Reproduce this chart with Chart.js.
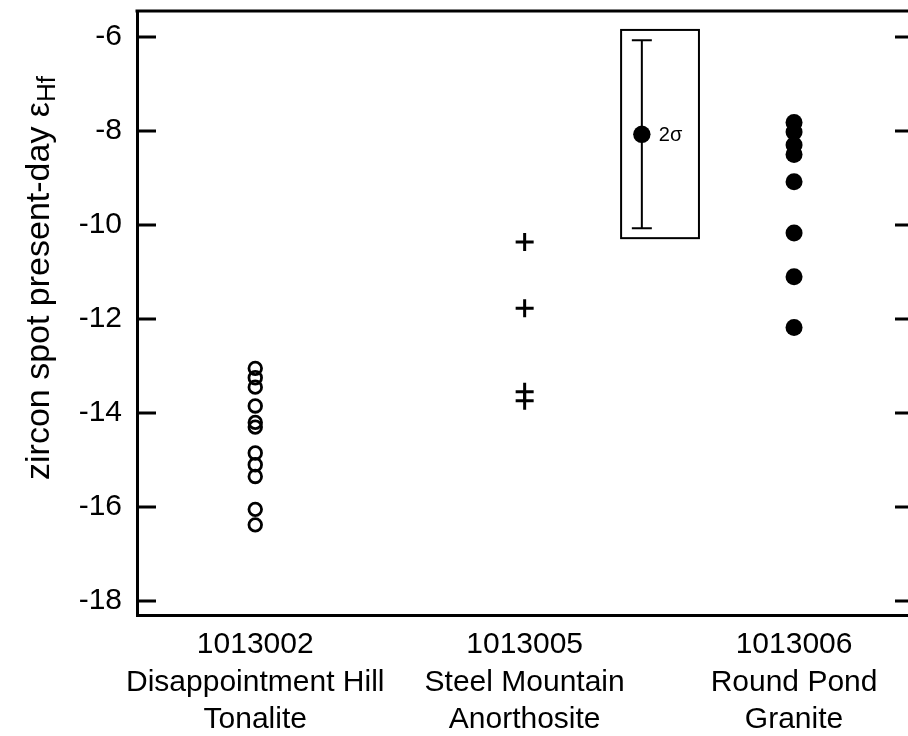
<!DOCTYPE html>
<html>
<head>
<meta charset="utf-8">
<script src="https://cdn.jsdelivr.net/npm/chart.js@4"></script>
<style>
  html, body { margin: 0; padding: 0; background: #fff; }
  #wrap { width: 908px; height: 736px; }
</style>
</head>
<body>
<div id="wrap"><canvas id="chart" width="908" height="736"></canvas></div>
<script>
// sample positions on the x axis and their labels
const categoryX = [1, 2, 3];
const categoryLabels = [
    ["1013002", "Disappointment Hill", "Tonalite"],
    ["1013005", "Steel Mountain", "Anorthosite"],
    ["1013006", "Round Pond", "Granite"]
];

// zircon spot present-day eHf values
const tonaliteHf = [-13.05, -13.25, -13.45, -13.85, -14.2, -14.3, -14.85, -15.1, -15.35, -16.05, -16.38];
const anorthositeHf = [-10.36, -11.77, -13.55, -13.74];
const graniteHf = [-7.82, -8.02, -8.3, -8.5, -9.08, -10.17, -11.1, -12.18];

// typical 2 sigma uncertainty shown in the inset box
const errX = 2.435;
const errY = -8.07;
const errHalf = 2;
const boxX = [2.358, 2.647];
const boxY = [-5.85, -10.28];

const yTicks = [-18, -16, -14, -12, -10, -8, -6];
const xRange = [0.561, 3.423];
const yRange = [-18.298, -5.447];

const FONT = "'Liberation Sans', Arial, sans-serif";

const toPoints = (x, vals) => vals.map(v => ({ x: x, y: v }));

// no extra room for overhanging labels, the frame is fixed
const noPadding = axis => {
    axis.paddingLeft = 0;
    axis.paddingRight = 0;
    axis.paddingTop = 0;
    axis.paddingBottom = 0;
};

// frame top, inner ticks, error bar inset and the axis title
const decorations = {
    id: "decorations",
    afterDatasetsDraw(chart) {
        const { ctx, chartArea: a, scales: { x, y } } = chart;
        ctx.save();
        ctx.strokeStyle = "#000";
        ctx.lineCap = "butt";

        // top frame line
        ctx.lineWidth = 3;
        ctx.beginPath();
        ctx.moveTo(a.left - 1.5, a.top);
        ctx.lineTo(a.right, a.top);
        ctx.stroke();

        // inward ticks on left and right
        yTicks.forEach(v => {
            const py = y.getPixelForValue(v);
            ctx.beginPath();
            ctx.moveTo(a.left, py);
            ctx.lineTo(a.left + 19, py);
            ctx.moveTo(a.right - 13, py);
            ctx.lineTo(a.right, py);
            ctx.stroke();
        });

        // inset box
        const bx0 = x.getPixelForValue(boxX[0]);
        const bx1 = x.getPixelForValue(boxX[1]);
        const by0 = y.getPixelForValue(boxY[0]);
        const by1 = y.getPixelForValue(boxY[1]);
        ctx.lineWidth = 2;
        ctx.strokeRect(bx0, by0, bx1 - bx0, by1 - by0);

        // error bar
        const ex = x.getPixelForValue(errX);
        const eTop = y.getPixelForValue(errY + errHalf);
        const eBot = y.getPixelForValue(errY - errHalf);
        ctx.beginPath();
        ctx.moveTo(ex, eTop);
        ctx.lineTo(ex, eBot);
        ctx.moveTo(ex - 10, eTop);
        ctx.lineTo(ex + 10, eTop);
        ctx.moveTo(ex - 10, eBot);
        ctx.lineTo(ex + 10, eBot);
        ctx.stroke();

        ctx.fillStyle = "#000";
        ctx.font = "20px " + FONT;
        ctx.textAlign = "left";
        ctx.textBaseline = "alphabetic";
        ctx.fillText("2σ", ex + 17, y.getPixelForValue(errY) + 7);

        // y axis title with subscript
        const main = "zircon spot present-day ε";
        const sub = "Hf";
        ctx.font = "34px " + FONT;
        const wMain = ctx.measureText(main).width;
        ctx.font = "26px " + FONT;
        const wSub = ctx.measureText(sub).width;
        const total = wMain + wSub;
        ctx.translate(49, 278);
        ctx.rotate(-Math.PI / 2);
        ctx.font = "34px " + FONT;
        ctx.fillText(main, -total / 2, 0);
        ctx.font = "26px " + FONT;
        ctx.fillText(sub, -total / 2 + wMain, 6);
        ctx.restore();
    }
};

new Chart(document.getElementById("chart"), {
    type: "scatter",
    data: {
        datasets: [
            {
                data: toPoints(categoryX[0], tonaliteHf),
                pointStyle: "circle",
                pointRadius: 6.3,
                pointBorderWidth: 2.8,
                pointBorderColor: "#000",
                pointBackgroundColor: "rgba(0,0,0,0)"
            },
            {
                data: toPoints(categoryX[1], anorthositeHf),
                pointStyle: "cross",
                pointRadius: 9,
                pointBorderWidth: 3,
                pointBorderColor: "#000"
            },
            {
                data: toPoints(categoryX[2], graniteHf),
                pointStyle: "circle",
                pointRadius: 8.5,
                pointBorderWidth: 0,
                pointBackgroundColor: "#000"
            },
            {
                data: [{ x: errX, y: errY }],
                pointStyle: "circle",
                pointRadius: 8.7,
                pointBorderWidth: 0,
                pointBackgroundColor: "#000"
            }
        ]
    },
    options: {
        responsive: false,
        animation: false,
        events: [],
        layout: { autoPadding: false, padding: { top: 11, right: 0, left: 0, bottom: 0 } },
        plugins: {
            legend: { display: false },
            tooltip: { enabled: false }
        },
        scales: {
            x: {
                type: "linear",
                min: xRange[0],
                max: xRange[1],
                afterBuildTicks: axis => { axis.ticks = categoryX.map(v => ({ value: v })); },
                afterFit: axis => { axis.height = 121; noPadding(axis); },
                grid: { display: false, drawTicks: false },
                border: { display: true, width: 3, color: "#000" },
                ticks: {
                    color: "#000",
                    padding: 11,
                    maxRotation: 0,
                    autoSkip: false,
                    font: { family: FONT, size: 30, lineHeight: "37.5px" },
                    callback: (v) => categoryLabels[categoryX.indexOf(v)] || ""
                }
            },
            y: {
                min: yRange[0],
                max: yRange[1],
                afterBuildTicks: axis => { axis.ticks = yTicks.map(v => ({ value: v })); },
                afterFit: axis => { axis.width = 137; noPadding(axis); },
                grid: { display: false, drawTicks: false },
                border: { display: true, width: 3, color: "#000" },
                ticks: {
                    color: "#000",
                    padding: 15,
                    font: { family: FONT, size: 30 }
                }
            }
        }
    },
    plugins: [decorations]
});
</script>
</body>
</html>
